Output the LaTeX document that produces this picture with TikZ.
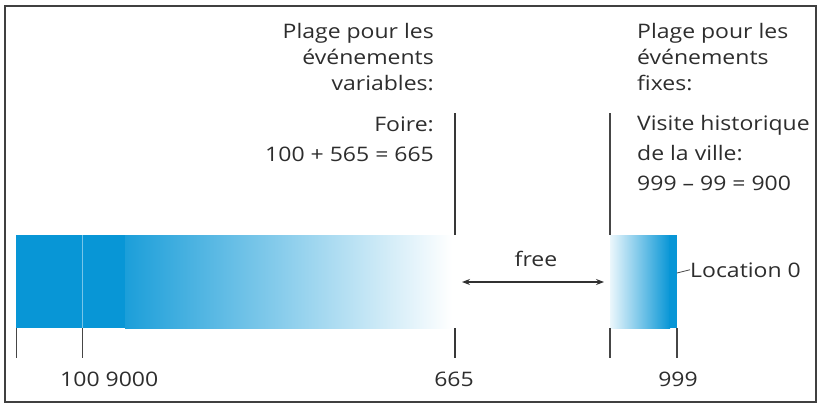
\documentclass[tikz,border=0pt]{standalone}
\usepackage{fontspec}
\setmainfont{Open Sans}
\usetikzlibrary{arrows.meta}
\definecolor{barblue}{RGB}{8,150,214}
\definecolor{txt}{RGB}{45,45,45}
\definecolor{tick}{RGB}{70,70,70}
\newcommand{\wtxt}[1]{\scalebox{1.15}[1]{#1}}
\tikzset{
  lbl/.style={inner sep=0pt, text=txt, font=\fontsize{20}{29}\selectfont},
  thin/.style={draw=tick, line width=1pt},
  thick/.style={draw=tick!80!black, line width=2pt},
  mid/.style={draw=tick, line width=1.4pt},
}
\begin{document}
\begin{tikzpicture}[x=1pt,y=-1pt]
\useasboundingbox (0,0) rectangle (818,404);
\draw[line width=2pt, draw=black!75] (5,6) rectangle (816,402);

% left bar
\fill[barblue] (16,235) rectangle (126,328);
\shade[left color=barblue!92!white, middle color=barblue!50!white, right color=white] (125,235) rectangle (452,328);
\draw[barblue!55!white, line width=0.8pt] (82,235) -- (82,328);
% right bar
\shade[left color=barblue!8!white, middle color=barblue!55!white, right color=barblue] (610,235) rectangle (670,328);
\fill[barblue] (669,235) rectangle (677,328);

% coordinates for lines
\coordinate (t0a) at (16,328);  \coordinate (t0b) at (16,358);
\coordinate (t1a) at (82,328);  \coordinate (t1b) at (82,358);
\coordinate (t2a) at (455,328); \coordinate (t2b) at (455,358);
\coordinate (t3a) at (610,328); \coordinate (t3b) at (610,358);
\coordinate (t4a) at (677,328); \coordinate (t4b) at (677,358);
\coordinate (u2a) at (455,113); \coordinate (u2b) at (455,235);
\coordinate (u3a) at (610,113); \coordinate (u3b) at (610,235);
\coordinate (fa) at (462,282);  \coordinate (fb) at (604,282);
\coordinate (la) at (677,273);

\draw[thin] (t0a) -- (t0b);
\draw[thin] (t1a) -- (t1b);
\draw[thick] (t2a) -- (t2b);
\draw[mid] (t3a) -- (t3b);
\draw[mid] (t4a) -- (t4b);
\draw[thick] (u2a) -- (u2b);
\draw[mid] (u3a) -- (u3b);
\draw[draw=tick!70!black, line width=1.1pt, {Stealth[length=8pt,width=6pt]}-{Stealth[length=8pt,width=6pt]}] (fa) -- (fb);

% texts
\node[lbl, anchor=base east] (h1a) at (434,39) {\wtxt{Plage pour les}};
\node[lbl, anchor=base east] (h1b) at (434,64.5) {\wtxt{événements}};
\node[lbl, anchor=base east] (h1c) at (434,90.5) {\wtxt{variables:}};
\node[lbl, anchor=base east] (fo1) at (434,131.5) {\wtxt{Foire:}};
\node[lbl, anchor=base east] (fo2) at (434,161.5) {\wtxt{100 + 565 = 665}};

\node[lbl, anchor=base west] (h2a) at (637,38.5) {\wtxt{Plage pour les}};
\node[lbl, anchor=base west] (h2b) at (637,64.5) {\wtxt{événements}};
\node[lbl, anchor=base west] (h2c) at (637,90.5) {\wtxt{fixes:}};
\node[lbl, anchor=base west] (vi1) at (637,130) {\wtxt{Visite historique}};
\node[lbl, anchor=base west] (vi2) at (637,160) {\wtxt{de la ville:}};
\node[lbl, anchor=base west] (vi3) at (637,190) {\wtxt{999 – 99 = 900}};

\node[lbl, anchor=base] (free) at (536,266.5) {\wtxt{free}};
\node[lbl, anchor=base west] (loc) at (690,277) {\wtxt{Location 0}};
\draw[draw=tick, line width=0.8pt] (la) -- (loc.west);

\node[lbl, anchor=base west] (n100) at (60,386.5) {\wtxt{100 9000}};
\node[lbl, anchor=base] (n665) at (454,386.5) {\wtxt{665}};
\node[lbl, anchor=base] (n999) at (678,386.5) {\wtxt{999}};
\end{tikzpicture}
\end{document}
